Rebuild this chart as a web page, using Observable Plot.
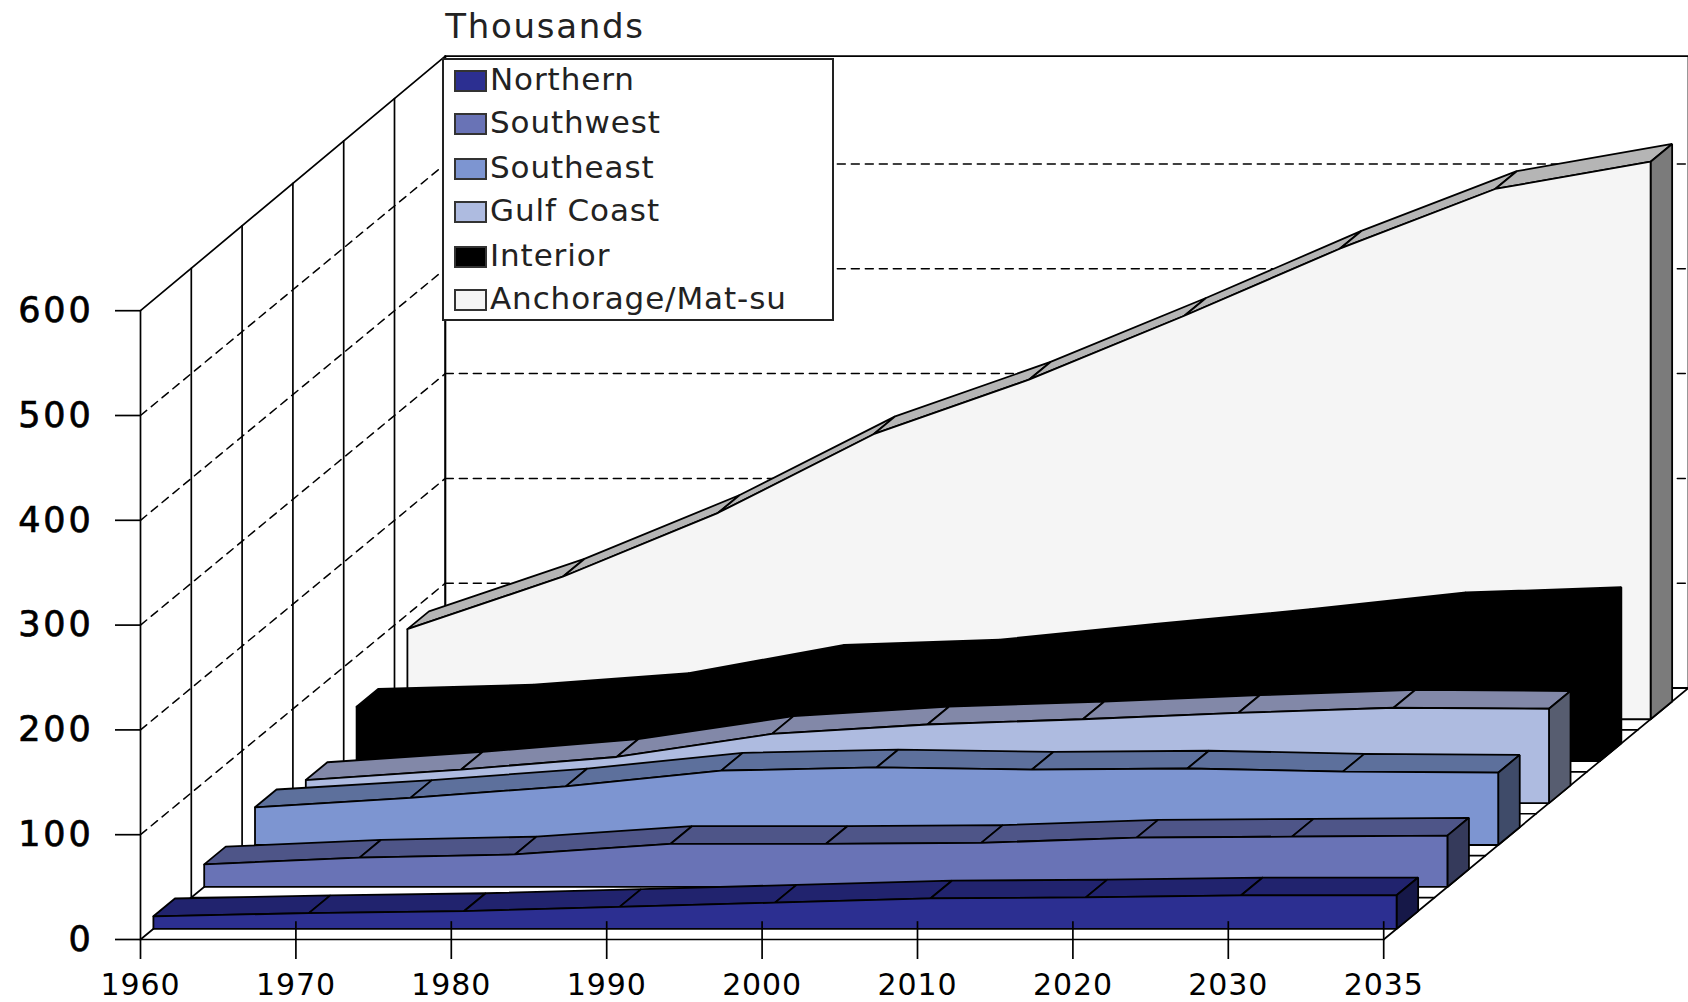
<!DOCTYPE html>
<html>
<head>
<meta charset="utf-8">
<script src="https://cdn.jsdelivr.net/npm/d3@7"></script>
<script src="https://cdn.jsdelivr.net/npm/@observablehq/plot@0.6"></script>
<style>
html,body{margin:0;padding:0;background:#fff;overflow:hidden}
#wrap{position:relative;width:1688px;height:1002px}
#wrap svg{display:block;background:#fff}
#wrap svg g[aria-label="y-axis tick label"] text{stroke:#000;stroke-width:.7px;letter-spacing:2.8px}
#wrap svg g[aria-label="x-axis tick label"] text{letter-spacing:.9px}
#wrap svg .unit text{letter-spacing:1.7px}
#legend{position:absolute;left:442px;top:58px;width:388px;height:259px;background:#fff;border:2px solid #222;box-sizing:content-box;font-family:"DejaVu Sans",sans-serif;font-size:31px;letter-spacing:.9px;color:#222}
.row{position:absolute;left:10px;height:40px;line-height:40px;white-space:nowrap}
.sw{position:absolute;left:0;top:10px;width:29px;height:18px;border:2px solid #333}
.lb{position:absolute;left:36px;top:-1px}
</style>
</head>
<body>
<div id="wrap"></div>
<script>
// Chart values (thousands of people)
const years = ["1960","1970","1980","1990","2000","2010","2020","2030","2035"];
const yTicks = [0,100,200,300,400,500,600];
const northern  = [12,15,17,21,25,29,30,32,32];
const southwest = [21.5,28,31,41,41,42,47,48,49];
const southeast = [36,45,56,71,74,72,73,70,69];
const gulfCoast = [22,32,44,66,75,80,86,91,90];
const interior  = [52,56,67,94,99,114,128,144,149];
const anchorage = [86,136,197,272,324,385,449,506,532];

const names  = ["Northern","Southwest","Southeast","Gulf Coast","Interior","Anchorage/Mat-su"];
const values = [northern,southwest,southeast,gulfCoast,interior,anchorage];
const fronts = ["#2c2f91","#6973b6","#7d95d1","#aebbe0","#000000","#f5f5f5"];
const tops   = ["#21236e","#4e5588","#5d709c","#8288a8","#000000","#b5b5b5"];
const sides  = ["#161848","#353a5b","#3f4b69","#575d70","#000000","#7b7b7b"];

// Oblique projection, expressed in data units of the two scales
const slots = names.length, DX = 0.3269, DY = 40.0, GAP = 0.254, DEPTH = 0.424, RISE = 0.5;
const px = (i,d) => i + d*DX;
const py = (v,d) => v + d*DY;
const last = years.length - 1;
const idx = d3.range(years.length);
const topAt = d => 600 + d*RISE; // the walls' top edge runs slightly above the 600 level towards the back

const poly = (arr,id,color,pts) => pts.forEach(([i,v,d]) => arr.push({id,color,x:px(i,d),y:py(v,d)}));

const wall = [];
poly(wall,"back","#fff",[[0,0,slots],[last,0,slots],[last,topAt(slots),slots],[0,topAt(slots),slots],[0,0,slots]]);

const solid = [];
d3.range(slots+1).forEach(k => {
  poly(solid,"vert"+k,"none",[[0,0,k],[0,topAt(k),k]]);
  poly(solid,"floor"+k,"none",[[0,0,k],[last,0,k]]);
});
poly(solid,"sideTop","none",[[0,600,0],[0,topAt(slots),slots]]);
poly(solid,"sideBot","none",[[0,0,0],[0,0,slots]]);
poly(solid,"floorR","none",[[last,0,0],[last,0,slots]]);

const dashed = [];
yTicks.filter(t => t>0 && t<600).forEach(t => {
  poly(dashed,"s"+t,"none",[[0,t,0],[0,t,slots]]);
  poly(dashed,"b"+t,"none",[[0,t,slots],[last,t,slots]]);
});

const faces = [];
d3.range(slots-1,-1,-1).forEach(k => {
  const v = values[k], d0 = k+GAP, d1 = d0+DEPTH;
  idx.slice(0,-1).forEach(i => {
    poly(faces,`t${k}-${i}`,tops[k],[[i,v[i],d0],[i+1,v[i+1],d0],[i+1,v[i+1],d1],[i,v[i],d1],[i,v[i],d0]]);
  });
  poly(faces,`r${k}`,sides[k],[[last,0,d0],[last,v[last],d0],[last,v[last],d1],[last,0,d1],[last,0,d0]]);
  poly(faces,`f${k}`,fronts[k],[[0,0,d0],...idx.map(i=>[i,v[i],d0]),[last,0,d0],[0,0,d0]]);
});

const plot = Plot.plot({
  width:1688, height:1002,
  marginLeft:140, marginRight:0, marginTop:0, marginBottom:63,
  style:{fontFamily:"DejaVu Sans, sans-serif", background:"#fff", overflow:"visible"},
  x:{domain:[0,last+slots*DX]},
  y:{domain:[0,896]},
  marks:[
    Plot.line(wall,{x:"x",y:"y",z:"id",fill:"#fff",stroke:"#000",strokeWidth:1.8}),
    Plot.line(dashed,{x:"x",y:"y",z:"id",stroke:"#000",strokeWidth:1.5,strokeDasharray:"8,6"}),
    Plot.line(solid,{x:"x",y:"y",z:"id",stroke:"#000",strokeWidth:1.7}),
    Plot.line(faces,{x:"x",y:"y",z:"id",fill:{value:"color",scale:null},stroke:"#000",strokeWidth:1.8,strokeLinejoin:"miter"}),
    Plot.ruleX(idx.slice(1),{x:d=>d,y1:0,y2:17,stroke:"#000",strokeWidth:1.7}),
    Plot.axisY({ticks:yTicks,tickFormat:d=>String(d),tickSize:25,tickPadding:22,fontSize:35,stroke:"#000",strokeWidth:1.7,label:null}),
    Plot.axisX({ticks:idx,tickFormat:i=>years[i],tickSize:20,tickPadding:14,fontSize:30,stroke:"#000",strokeWidth:1.7,label:null}),
    Plot.text(["Thousands"],{x:px(0,slots),y:py(topAt(slots),slots),dy:-29,textAnchor:"start",fontSize:34,fill:"#222",className:"unit"})
  ]
});
const wrap = document.getElementById("wrap");
wrap.appendChild(plot);

const legend = document.createElement("div");
legend.id = "legend";
const rowTops = [0,43,88,131,176,219];
names.forEach((n,k) => {
  const r = document.createElement("div");
  r.className = "row";
  r.style.top = rowTops[k] + "px";
  r.innerHTML = `<span class="sw" style="background:${fronts[k]}"></span><span class="lb">${n}</span>`;
  legend.appendChild(r);
});
wrap.appendChild(legend);
</script>
</body>
</html>
